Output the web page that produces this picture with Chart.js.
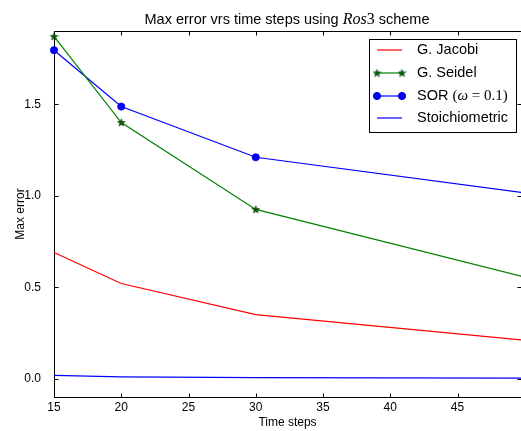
<!DOCTYPE html>
<html>
<head>
<meta charset="utf-8">
<script src="https://cdn.jsdelivr.net/npm/chart.js@4/dist/chart.umd.min.js"></script>
<style>
html, body { margin: 0; padding: 0; overflow: hidden; background: #fff; }
#wrap { width: 521px; height: 431px; }
</style>
</head>
<body>
<div id="wrap"><canvas id="chart-canvas" width="521" height="431"></canvas></div>
<script>
//////////////////////////////////////////////////
/////       Data   //////////
//////////////////////////////////////////////////

var timeSteps = [15, 20, 30, 50];
var jacobiErr = [0.69, 0.52, 0.35, 0.21];
var seidelErr = [1.87, 1.40, 0.925, 0.555];
var sorErr = [1.795, 1.487, 1.21, 1.015];
var stoichErr = [0.018, 0.010, 0.006, 0.003];

var xTicks = [15, 20, 25, 30, 35, 40, 45];
var yTicks = [0.0, 0.5, 1.0, 1.5];
var seriesNames = ['G. Jacobi', 'G. Seidel', 'SOR (\u03c9 = 0.1)', 'Stoichiometric'];

var SANS = "'Liberation Sans', Arial, Helvetica, sans-serif";
var SERIF = "'Liberation Serif', 'DejaVu Serif', serif";

// the original is cropped just before x = 50, so the view stops there
var X_VIEW_MAX = 49.72;
var CLIP = { left: 6, top: 6, right: 0, bottom: 6 };

function pts(ys) {
    return timeSteps.map(function (t, i) { return { x: t, y: ys[i] }; });
}

// filled star marker (matplotlib '*')
var star = document.createElement('canvas');
star.width = 9; star.height = 9;
var sc = star.getContext('2d');
sc.beginPath();
for (var i = 0; i < 10; i++) {
    var r = i % 2 == 0 ? 4 : 1.7;
    var a = -Math.PI / 2 + i * Math.PI / 5;
    sc.lineTo(4.5 + r * Math.cos(a), 4.8 + r * Math.sin(a));
}
sc.closePath();
sc.fillStyle = '#0b5e0b';
sc.fill();
sc.strokeStyle = '#033803';
sc.lineWidth = 0.6;
sc.stroke();

//////////////////////////////////////////////////
/////       Plugins: frame, title, legend   //////
//////////////////////////////////////////////////

var framePlugin = {
    id: 'frame',
    beforeDatasetsDraw: function (chart) {
        var ctx = chart.ctx, a = chart.chartArea;
        var xs = chart.scales.x, ys = chart.scales.y;
        var L = Math.round(a.left) + 0.5, R = Math.round(a.right) + 0.5;
        var T = Math.round(a.top) + 0.5, B = Math.round(a.bottom) + 0.5;
        ctx.save();
        ctx.strokeStyle = '#000';
        ctx.lineWidth = 1;
        ctx.strokeRect(L, T, R - L, B - T);
        ctx.beginPath();
        xTicks.forEach(function (v) {
            var px = Math.round(xs.getPixelForValue(v)) + 0.5;
            ctx.moveTo(px, B); ctx.lineTo(px, B - 4);
            ctx.moveTo(px, T); ctx.lineTo(px, T + 4);
        });
        yTicks.forEach(function (v) {
            var py = Math.round(ys.getPixelForValue(v)) + 0.5;
            ctx.moveTo(L, py); ctx.lineTo(L + 4, py);
            ctx.moveTo(R, py); ctx.lineTo(R - 4, py);
        });
        ctx.stroke();
        ctx.restore();
    }
};

var titlePlugin = {
    id: 'mathTitle',
    afterDraw: function (chart) {
        var ctx = chart.ctx;
        var parts = [
            { t: 'Max error vrs time steps using ', f: '14.5px ' + SANS },
            { t: 'Ros', f: 'italic 16px ' + SERIF },
            { t: '3', f: '16px ' + SERIF },
            { t: ' scheme', f: '14.5px ' + SANS }
        ];
        ctx.save();
        var total = 0;
        parts.forEach(function (p) { ctx.font = p.f; p.w = ctx.measureText(p.t).width; total += p.w; });
        var x = 287 - total / 2;
        ctx.fillStyle = '#000';
        ctx.textBaseline = 'alphabetic';
        parts.forEach(function (p) { ctx.font = p.f; ctx.fillText(p.t, x, 24); x += p.w; });
        ctx.restore();
    }
};

var legendPlugin = {
    id: 'boxLegend',
    afterDraw: function (chart) {
        var ctx = chart.ctx;
        var bx = 369.5, by = 39.5, bw = 147, bh = 93;
        var rows = [50, 73, 96, 118];
        ctx.save();
        ctx.fillStyle = '#fff';
        ctx.fillRect(bx, by, bw, bh);
        ctx.strokeStyle = '#000';
        ctx.lineWidth = 1;
        ctx.strokeRect(bx, by, bw, bh);
        chart.data.datasets.forEach(function (ds, i) {
            var y = rows[i];
            ctx.strokeStyle = ds.borderColor;
            ctx.lineWidth = ds.borderWidth;
            ctx.beginPath();
            ctx.moveTo(377, y); ctx.lineTo(402, y);
            ctx.stroke();
            if (ds.pointRadius > 0) {
                ctx.fillStyle = ds.pointBackgroundColor;
                ctx.strokeStyle = ds.pointBorderColor;
                ctx.lineWidth = 1;
                [377, 402].forEach(function (px) {
                    Chart.helpers.drawPoint(ctx, { pointStyle: ds.pointStyle, radius: ds.pointRadius, rotation: 0, borderWidth: 0.8 }, px, y);
                });
            }
            ctx.fillStyle = '#000';
            ctx.textBaseline = 'middle';
            var label = ds.label, x = 417;
            var k = label.indexOf('(');
            if (k < 0) {
                ctx.font = '14.5px ' + SANS;
                ctx.fillText(label, x, y);
            } else {
                var segs = [
                    { t: label.slice(0, k), f: '14.5px ' + SANS },
                    { t: '(', f: '15px ' + SERIF },
                    { t: '\u03c9', f: 'italic 15px ' + SERIF },
                    { t: label.slice(k + 2).replace(/ /g, '').replace('=', ' = '), f: '15px ' + SERIF }
                ];
                segs.forEach(function (s) {
                    ctx.font = s.f;
                    ctx.fillText(s.t, x, y);
                    x += ctx.measureText(s.t).width;
                });
            }
        });
        ctx.restore();
    }
};

//////////////////////////////////////////////////
/////       For Loading chart.js    //////////////
//////////////////////////////////////////////////

var ctx = document.getElementById('chart-canvas').getContext('2d');
var myChart = new Chart(ctx, {
    type: 'line',
    data: {
        datasets: [
            {
                label: seriesNames[0],
                data: pts(jacobiErr),
                borderColor: '#ff0000',
                borderWidth: 1.2,
                pointRadius: 0,
                tension: 0,
                clip: CLIP
            },
            {
                label: seriesNames[1],
                data: pts(seidelErr),
                borderColor: '#008000',
                borderWidth: 1.2,
                pointStyle: star,
                pointRadius: 3,
                pointBackgroundColor: '#0b5e0b',
                pointBorderColor: '#033803',
                tension: 0,
                clip: CLIP
            },
            {
                label: seriesNames[2],
                data: pts(sorErr),
                borderColor: '#0000ff',
                borderWidth: 1.2,
                pointStyle: 'circle',
                pointRadius: 3.6,
                pointBackgroundColor: '#0000ff',
                pointBorderColor: '#0000cc',
                pointBorderWidth: 0.8,
                tension: 0,
                clip: CLIP
            },
            {
                label: seriesNames[3],
                data: pts(stoichErr),
                borderColor: '#0000ff',
                borderWidth: 1.2,
                pointRadius: 0,
                tension: 0,
                clip: CLIP
            }
        ]
    },
    options: {
        responsive: false,
        animation: false,
        events: [],
        layout: { autoPadding: false, padding: { top: 31, right: 0, left: 0, bottom: 0 } },
        plugins: {
            legend: { display: false },
            title: { display: false },
            tooltip: { enabled: false }
        },
        scales: {
            x: {
                type: 'linear',
                min: 15,
                max: X_VIEW_MAX,
                grid: { display: false },
                border: { display: false },
                afterBuildTicks: function (s) { s.ticks = xTicks.map(function (v) { return { value: v }; }); },
                afterFit: function (s) { s.height = 34; s.paddingLeft = 0; s.paddingRight = 0; },
                ticks: { padding: -5, maxRotation: 0, color: '#000', font: { family: SANS, size: 12 } },
                title: { display: true, text: 'Time steps', color: '#000', font: { family: SANS, size: 12 }, padding: { top: 0, bottom: 1 } }
            },
            y: {
                type: 'linear',
                min: -0.1,
                max: 1.9,
                grid: { display: false },
                border: { display: false },
                afterBuildTicks: function (s) { s.ticks = yTicks.map(function (v) { return { value: v }; }); },
                afterFit: function (s) { s.width = 54; },
                ticks: {
                    padding: 5,
                    color: '#000',
                    font: { family: SANS, size: 12 },
                    callback: function (v) { return v.toFixed(1); }
                },
                title: { display: true, text: 'Max error', color: '#000', font: { family: SANS, size: 12 }, padding: { top: 13, bottom: 0 } }
            }
        }
    },
    plugins: [framePlugin, titlePlugin, legendPlugin]
});
</script>
</body>
</html>
